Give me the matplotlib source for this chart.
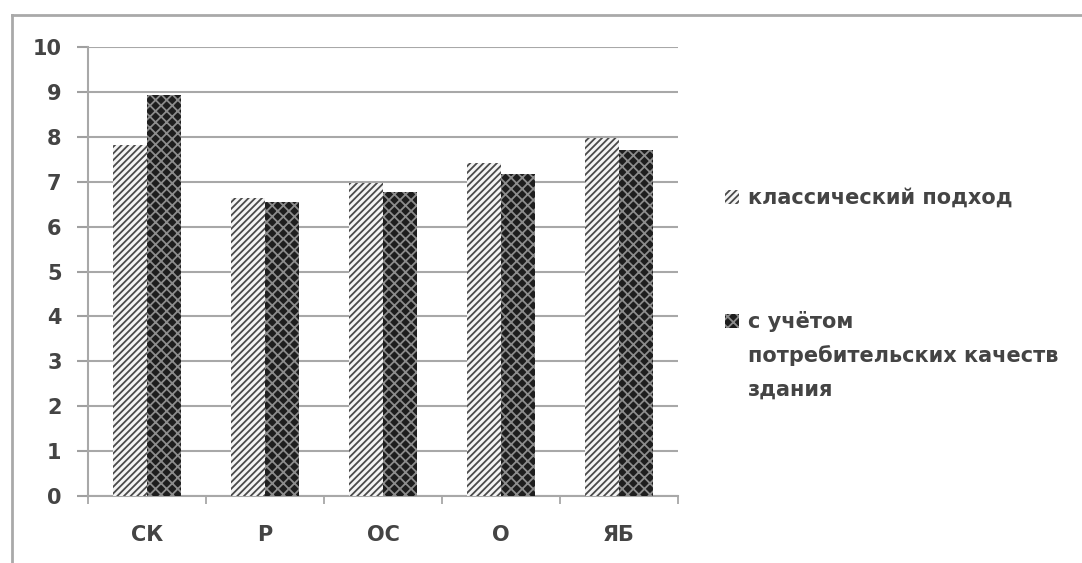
import matplotlib
matplotlib.use("Agg")
import matplotlib.pyplot as plt
from matplotlib.patches import Rectangle
from matplotlib.lines import Line2D
import numpy as np

plt.rcParams['font.family'] = ['DejaVu Sans']
plt.rcParams['hatch.linewidth'] = 1.3

categories = ['СК', 'Р', 'ОС', 'О', 'ЯБ']
classic = [7.82, 6.63, 6.97, 7.41, 7.98]
consumer = [8.93, 6.55, 6.78, 7.17, 7.70]
series_labels = [['классический подход'],
                 ['с учётом', 'потребительских качеств', 'здания']]
y_ticks = list(range(0, 11))

TEXT = '#444444'
FS = 15
W, H = 1082, 563
fig = plt.figure(figsize=(W / 100, H / 100), dpi=100)

# outer chart frame (left and top edges)
fig.add_artist(Line2D([12 / W, 12 / W], [0, 1 - 15 / H], transform=fig.transFigure,
                      color='#a9a9a9', lw=2))
fig.add_artist(Line2D([12 / W, 1], [1 - 15 / H, 1 - 15 / H], transform=fig.transFigure,
                      color='#a9a9a9', lw=2))

ax = fig.add_axes([88 / W, 1 - 496 / H, (678 - 88) / W, (496 - 47) / H])

classic_style = dict(facecolor='#f4f4f4', edgecolor='#4a4a4a', hatch='/////')
consumer_style = dict(facecolor='#1e1e1e', edgecolor='#8c8c8c', hatch='xxx')

x = np.arange(len(categories))
bw = 0.29
ax.bar(x - bw / 2, classic, bw, linewidth=0, zorder=3, **classic_style)
ax.bar(x + bw / 2, consumer, bw, linewidth=0, zorder=3, **consumer_style)

ax.set_xlim(-0.5, len(categories) - 0.5)
ax.set_ylim(0, 10)
ax.set_yticks(y_ticks)
ax.set_yticklabels([str(v) for v in y_ticks], fontsize=FS, color=TEXT, fontweight='bold')
ax.set_xticks(x)
ax.set_xticklabels(categories, fontsize=FS, color=TEXT, fontweight='bold')
ax.tick_params(axis='x', length=0, pad=21)
ax.set_xticks(np.arange(-0.5, len(categories)), minor=True)
ax.tick_params(axis='x', which='minor', length=6, color='#a0a0a0', width=1.2)
ax.tick_params(axis='y', length=8, color='#a0a0a0', width=1.5, pad=11)

ax.yaxis.grid(True, color='#a8a8a8', lw=1.5, zorder=0)
ax.set_axisbelow(True)
for s in ['top', 'right']:
    ax.spines[s].set_visible(False)
ax.spines['left'].set_color('#a8a8a8')
ax.spines['left'].set_linewidth(1.5)
ax.spines['bottom'].set_color('#a8a8a8')
ax.spines['bottom'].set_linewidth(1.5)

# legend on the right: one swatch per series, label lines drawn on their baselines
for ycen, style, lines in zip([197, 321], [classic_style, consumer_style], series_labels):
    fig.add_artist(Rectangle((725 / W, 1 - (ycen + 7) / H), 14 / W, 14 / H,
                             transform=fig.transFigure, linewidth=0, **style))
    for i, line in enumerate(lines):
        base = ycen + 7 + 34 * i
        fig.text(748 / W, 1 - base / H, line, fontsize=FS, color=TEXT,
                 fontweight='bold', va='baseline', ha='left')

fig.savefig('out.png', dpi=100, facecolor='white')
